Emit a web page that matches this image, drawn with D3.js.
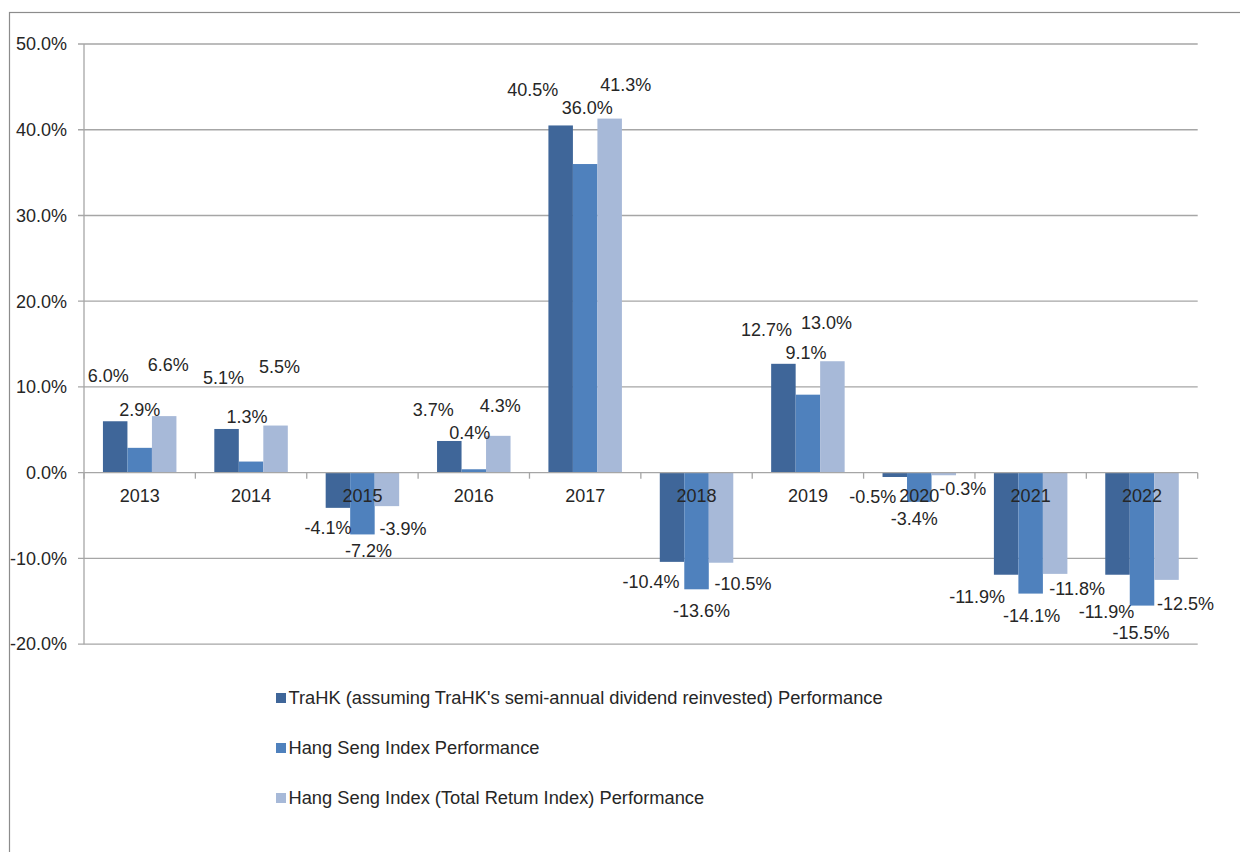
<!DOCTYPE html>
<html>
<head>
<meta charset="utf-8">
<script src="https://cdn.jsdelivr.net/npm/d3@7/dist/d3.min.js"></script>
<style>
  html, body { margin: 0; padding: 0; background: #fff; }
  svg { display: block; font-family: "Liberation Sans", Arial, sans-serif; }
</style>
</head>
<body>
<svg id="chart" width="1240" height="852"></svg>
<script>
// ---- data ----
const categories = ["2013","2014","2015","2016","2017","2018","2019","2020","2021","2022"];
const seriesNames = [
  "TraHK (assuming TraHK's semi-annual dividend reinvested) Performance",
  "Hang Seng Index Performance",
  "Hang Seng Index (Total Retum Index) Performance"
];
const trahk      = [6.0, 5.1, -4.1, 3.7, 40.5, -10.4, 12.7, -0.5, -11.9, -11.9];
const hsi        = [2.9, 1.3, -7.2, 0.4, 36.0, -13.6, 9.1, -3.4, -14.1, -15.5];
const hsiTotal   = [6.6, 5.5, -3.9, 4.3, 41.3, -10.5, 13.0, -0.3, -11.8, -12.5];
const yTicks     = [50, 40, 30, 20, 10, 0, -10, -20];

// ---- layout / style (not data) ----
const colors = ["#3f6699", "#4f81bd", "#a7b9d8"];
// label nudges [dx, dy] relative to bar end, per series per category
const labelNudge = [
  [[-7,-46],[-3,-51],[-10,20],[-16,-31],[-28,-36],[-21,20],[-17,-34],[-22,20],[-29,22],[-11,37]],
  [[0,-38],[-4,-45],[6,16],[-4,-37],[2,-56],[5,21],[-2,-42],[-5,17],[1,22],[-1,27]],
  [[4,-51],[4,-59],[16,23],[2,-30],[16,-34],[22,21],[-6,-39],[19,13],[22,15],[19,24]]
];

const fmt = v => d3.format(".1f")(v).replace("\u2212", "-") + "%";

const svg = d3.select("#chart");
const plotLeft = 84, plotRight = 1197.7, plotTop = 44, zeroY = 472.7;
const pxPer10 = (zeroY - plotTop) / 5;

const x = d3.scaleBand().domain(categories).range([plotLeft, plotRight]).padding(0);
const y = d3.scaleLinear().domain([-20, 50]).range([zeroY + 2 * pxPer10, plotTop]);
const xs = d3.scaleBand().domain([0,1,2]).range([0, x.bandwidth()]).paddingInner(0).paddingOuter(0.773);

const textColor = "#262626";
const gridColor = "#a6a6a6";

// outer frame
svg.append("rect").attr("x", 9.5).attr("y", 12.5).attr("width", 1300).attr("height", 1000)
  .attr("fill", "none").attr("stroke", "#8c8c8c").attr("stroke-width", 1.2);

// gridlines
svg.append("g").selectAll("line").data(yTicks.filter(d => d !== 0)).join("line")
  .attr("x1", plotLeft - 6).attr("x2", plotRight)
  .attr("y1", d => y(d)).attr("y2", d => y(d))
  .attr("stroke", gridColor).attr("stroke-width", 1.3);

// y axis line
svg.append("line").attr("x1", plotLeft).attr("x2", plotLeft).attr("y1", y(50)).attr("y2", y(-20))
  .attr("stroke", gridColor).attr("stroke-width", 1.3);

// y tick labels
svg.append("g").selectAll("text").data(yTicks).join("text")
  .attr("x", 67).attr("y", d => y(d)).attr("dy", "0.35em")
  .attr("text-anchor", "end").attr("font-size", 18).attr("fill", textColor)
  .text(d => fmt(d));

// bars
const series = [trahk, hsi, hsiTotal];
series.forEach((vals, si) => {
  svg.append("g").selectAll("rect").data(vals).join("rect")
    .attr("x", (d, i) => x(categories[i]) + xs(si))
    .attr("width", xs.bandwidth())
    .attr("y", d => y(Math.max(0, d)))
    .attr("height", d => Math.abs(y(d) - y(0)))
    .attr("fill", colors[si]);
});

// zero axis line and category ticks
svg.append("line").attr("x1", plotLeft - 6).attr("x2", plotRight).attr("y1", y(0)).attr("y2", y(0))
  .attr("stroke", gridColor).attr("stroke-width", 1.3);
const boundaries = categories.map(c => x(c)).concat([plotRight]);
svg.append("g").selectAll("line").data(boundaries).join("line")
  .attr("x1", d => d).attr("x2", d => d).attr("y1", y(0)).attr("y2", y(0) + 6)
  .attr("stroke", gridColor).attr("stroke-width", 1.3);

// category labels
svg.append("g").selectAll("text").data(categories).join("text")
  .attr("x", d => x(d) + x.bandwidth() / 2).attr("y", y(0) + 23).attr("dy", "0.35em")
  .attr("text-anchor", "middle").attr("font-size", 18).attr("fill", textColor)
  .text(d => d);

// data labels
series.forEach((vals, si) => {
  svg.append("g").selectAll("text").data(vals).join("text")
    .attr("x", (d, i) => x(categories[i]) + xs(si) + xs.bandwidth() / 2 + labelNudge[si][i][0])
    .attr("y", (d, i) => y(d) + labelNudge[si][i][1]).attr("dy", "0.35em")
    .attr("text-anchor", "middle").attr("font-size", 18).attr("fill", textColor)
    .text(d => fmt(d));
});

// legend
const legend = svg.append("g").attr("transform", "translate(276,698)");
seriesNames.forEach((name, i) => {
  const g = legend.append("g").attr("transform", `translate(0,${i * 50})`);
  g.append("rect").attr("x", 0).attr("y", -5).attr("width", 10).attr("height", 10).attr("fill", colors[i]);
  g.append("text").attr("x", 12.5).attr("y", 0).attr("dy", "0.35em")
    .attr("font-size", 18.3).attr("fill", textColor)
    .text(name);
});
</script>
</body>
</html>
